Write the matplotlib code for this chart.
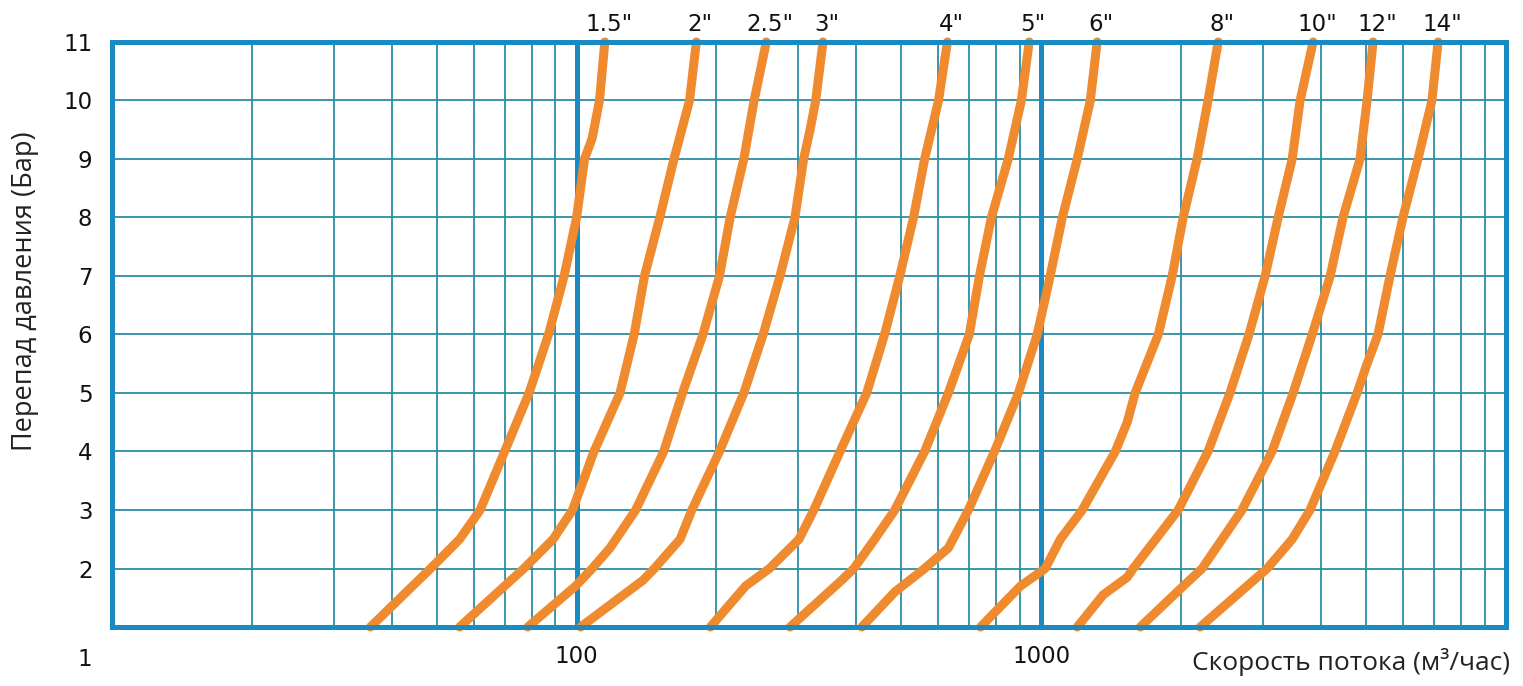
import matplotlib
matplotlib.use("Agg")
import matplotlib.pyplot as plt
import matplotlib.ticker as ticker
from matplotlib.transforms import offset_copy

# pressure drop (bar) vs flow (m3/h) for each valve size
sizes = ['1.5"', '2"', '2.5"', '3"', '4"', '5"', '6"', '8"', '10"', '12"', '14"']

p_15 = [1, 2, 2.5, 3, 4, 5, 6, 7, 8, 9, 9.35, 10, 11]
q_15 = [36, 48.5, 56, 62, 70, 79, 87, 94, 100, 104, 108, 112, 115]

p_2 = [1, 2, 2.5, 3, 4, 5, 6, 7, 8, 9, 10, 11]
q_2 = [56, 77, 89, 98, 109, 124, 133, 140, 151, 162, 175, 181]

p_25 = [1, 1.7, 2, 2.35, 3, 4, 5, 6, 7, 8, 9, 10, 11]
q_25 = [78.5, 99.5, 108, 118, 134, 154, 169, 187, 203, 214, 229, 241, 256]

p_3 = [1, 1.8, 2, 2.5, 3, 4, 5, 6, 7, 8, 9, 9.5, 10, 11]
q_3 = [102, 139, 147, 167, 177, 203, 229, 252, 274, 295, 308, 318, 327, 339]

p_4 = [1, 1.7, 2, 2.5, 3, 4, 5, 6, 7, 8, 9, 10, 11]
q_4 = [194, 231, 260, 301, 324, 369, 421, 460, 496, 531, 561, 601, 628]

p_5 = [1, 1.8, 2, 2.5, 3, 4, 5, 6, 7, 8, 9, 10, 11]
q_5 = [288, 372, 395, 438, 484, 561, 631, 700, 736, 781, 849, 906, 942]

p_6 = [1, 1.6, 2, 2.35, 3, 4, 5, 6, 7, 8, 9, 10, 11]
q_6 = [411, 484, 561, 631, 697, 793, 893, 980, 1045, 1110, 1195, 1275, 1319]

p_8 = [1, 1.7, 2, 2.5, 3, 4, 4.5, 5, 6, 7, 8, 9, 10, 11]
q_8 = [740, 902, 1020, 1099, 1225, 1443, 1531, 1592, 1786, 1913, 2020, 2164, 2285, 2403]

p_10 = [1, 1.55, 1.85, 2, 3, 4, 5, 6, 7, 8, 9, 10, 11]
q_10 = [1195, 1359, 1531, 1577, 1971, 2285, 2547, 2799, 3032, 3234, 3467, 3606, 3846]

p_12 = [1, 1.65, 2, 3, 4, 5, 6, 7, 8, 9, 10, 11]
q_12 = [1633, 1991, 2219, 2704, 3138, 3483, 3828, 4186, 4460, 4852, 5025, 5176]

p_14 = [1, 2, 2.5, 3, 4, 5, 5.5, 6, 7, 8, 9, 10, 11]
q_14 = [2198, 3063, 3467, 3788, 4285, 4783, 5025, 5305, 5630, 6002, 6467, 6930, 7145]

curves = [(p_15, q_15), (p_2, q_2), (p_25, q_25), (p_3, q_3), (p_4, q_4), (p_5, q_5),
          (p_6, q_6), (p_8, q_8), (p_10, q_10), (p_12, q_12), (p_14, q_14)]

y_ticks = [2, 3, 4, 5, 6, 7, 8, 9, 10, 11]
x_ticks = [100, 1000]

frame_blue = "#1a8bc2"
grid_teal = "#2b8ea6"
orange = "#f08a2e"

fig = plt.figure(figsize=(15.23, 6.86), dpi=100)
ax = fig.add_axes([0.0735, 0.086, 0.9153, 0.8528])
ax.set_xscale("log")
ax.set_xlim(10, 10000)
ax.set_ylim(1, 11)

# thin grid on every 2..9 of a decade and every bar step
for dec in [10, 100, 1000]:
    for k in range(2, 10):
        ax.axvline(dec * k, color=grid_teal, lw=1.3, zorder=1)
for y in y_ticks[:-1]:
    ax.axhline(y, color=grid_teal, lw=1.3, zorder=1)
for x in x_ticks:
    ax.axvline(x, color=frame_blue, lw=3.6, zorder=2)

for s in ax.spines.values():
    s.set_color(frame_blue)
    s.set_linewidth(3.6)
    s.set_zorder(5)

for (p, q), name in zip(curves, sizes):
    ax.plot(q, p, color=orange, lw=6.5, solid_capstyle="round",
            solid_joinstyle="round", zorder=3, clip_on=False)
    tr = offset_copy(ax.transData, fig=fig, x=4, y=6, units="dots")
    ax.text(q[-1], 11, name, transform=tr, ha="center", va="bottom",
            fontsize=16.5, family="DejaVu Sans", color="#111111")

ax.set_yticks(y_ticks)
ax.set_yticklabels([str(v) for v in y_ticks])
ax.xaxis.set_major_locator(ticker.FixedLocator(x_ticks))
ax.xaxis.set_major_formatter(ticker.FixedFormatter(["100", "1000"]))
ax.xaxis.set_minor_locator(ticker.NullLocator())
ax.tick_params(axis="both", length=0, labelsize=16.5, colors="#111111")
ax.tick_params(axis="y", pad=14)
ax.tick_params(axis="x", pad=13)

fig.text(85 / 1523, 1 - 660 / 686, "1", ha="center", va="center",
         fontsize=16.5, color="#111111")
fig.text(25 / 1523, 1 - 291 / 686, "Перепад давления (Бар)", rotation=90,
         ha="center", va="center", fontsize=19.5, family="Open Sans", color="#222222")
fig.text(1510 / 1523, 1 - 662 / 686, "Скорость потока (м³/час)", ha="right",
         va="center", fontsize=19, family="Open Sans", color="#222222")

fig.savefig("out.png", dpi=100)
